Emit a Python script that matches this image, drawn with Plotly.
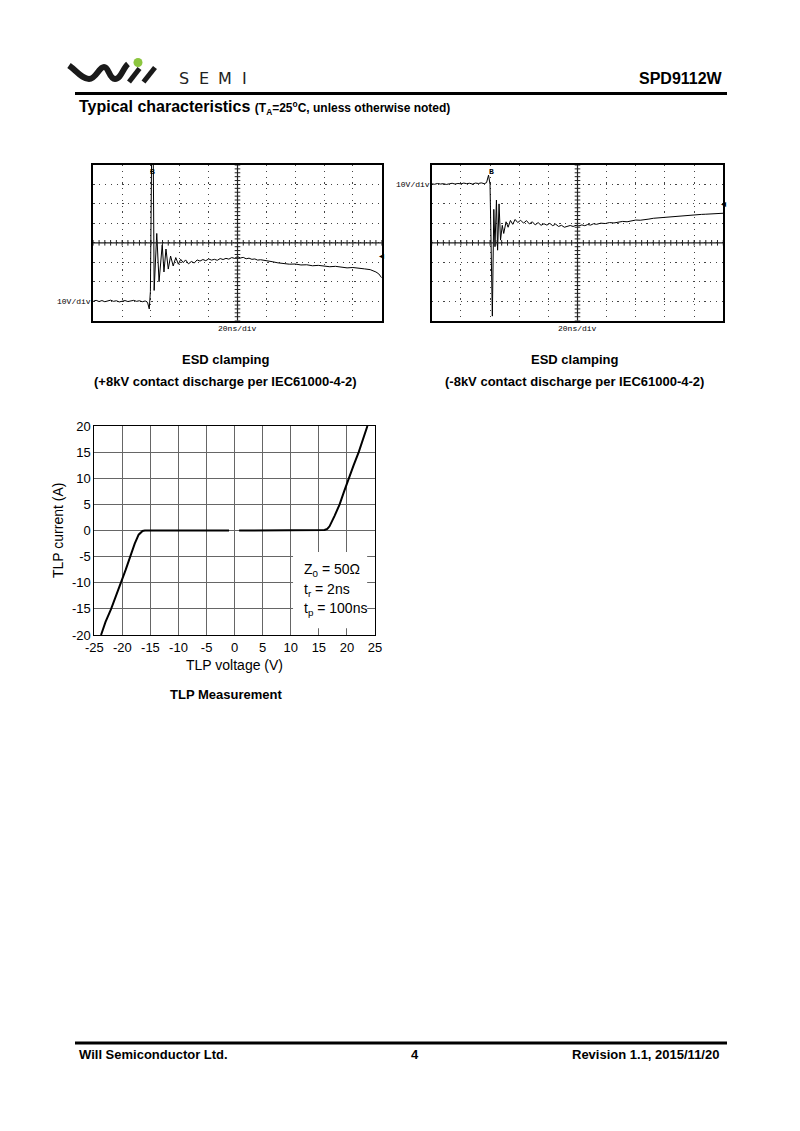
import plotly.graph_objects as go

W, H = 800, 1131

# ---------------- data ----------------
# ESD clamping +8kV (time in ns, voltage in V relative to ground)
esd_pos_t = [0, 2, 4, 6, 8, 10, 12, 14, 16, 18, 20, 22, 24, 26, 28, 30, 32, 34, 36, 37.6,
             38.8, 39.6, 40.4, 41.6, 42.2, 44.0, 45.6, 47.8, 49.0, 50.4, 52.0, 53.6, 55.4, 57.2,
             59.0, 60.6, 62.4, 64, 66, 68, 70, 72, 74, 76, 78, 80, 82, 84, 86, 88, 90, 92, 94,
             96, 98, 100, 102, 104, 106, 108, 110, 112, 114, 116, 120, 124, 128, 132, 136, 140,
             144, 148, 152, 156, 160, 164, 168, 172, 176, 180, 184, 188, 192, 194, 196, 198, 200]
esd_pos_v = [0.0, 0.4, -0.2, 0.3, -0.3, 0.2, 0.5, -0.1, 0.2, -0.4, 0.1, 0.3, -0.2, 0.2, 0.4, -0.1,
             0.2, -0.3, 0.1, -0.6,
             -4.0, 5.0, 72.0, 72.0, 5.5, 34.8, 10.0, 29.0, 15.0, 26.8, 16.5, 23.2, 18.1, 22.4,
             19.0, 21.5, 19.8, 21.2, 19.2, 20.4, 19.6, 21.2, 20.6, 21.4, 20.8, 21.7, 21.1, 21.5,
             21.0, 21.9, 21.4, 22.0, 21.6, 22.4, 22.0, 22.9, 22.2, 22.5, 21.8, 22.1, 21.5, 21.7,
             21.1, 21.3, 20.6, 20.3, 19.7, 19.4, 19.0, 19.1, 18.6, 18.7, 18.2, 18.4, 17.9, 17.7,
             17.9, 17.4, 17.1, 17.3, 16.8, 16.6, 16.2, 15.7, 15.0, 14.0, 12.0]

# ESD clamping -8kV
esd_neg_t = [0, 2, 4, 6, 8, 10, 12, 14, 16, 18, 20, 22, 24, 26, 28, 30, 32, 34, 36, 37.6,
             39.0, 40.0, 41.6, 42.6, 43.4, 44.4, 45.2, 46.2, 47.2, 48.4, 49.4, 51.0, 52.4, 54.0,
             55.6, 57.2, 59, 61, 63, 65, 67, 69, 71, 73, 75, 77, 79, 81, 83, 85, 87, 89, 91, 93,
             95, 97, 99, 101, 103, 105, 107, 109, 111, 113, 116, 119, 122, 125, 128, 131, 134,
             137, 140, 143, 146, 149, 152, 155, 158, 161, 164, 167, 170, 173, 176, 179, 182, 185,
             188, 191, 194, 197, 200]
esd_neg_v = [0.3, 0.1, 0.5, 0.2, 0.4, 0.0, 0.3, 0.6, 0.2, 0.5, 0.3, 0.7, 0.4, 0.6, 0.2, 0.7, 0.5,
             0.8, 0.4, 0.9,
             4.8, 0.0, -67.7, -12.8, -32.0, -8.0, -33.8, -10.0, -28.6, -21.0, -25.2, -19.2, -22.0,
             -18.5, -20.5, -18.0, -19.6, -18.4, -19.9, -18.6, -20.3, -19.2, -20.8, -19.6, -21.0,
             -20.2, -20.9, -20.0, -21.2, -20.4, -21.6, -21.0, -22.0, -21.4, -21.1, -21.6, -21.0,
             -21.3, -20.8, -21.2, -20.6, -20.9, -20.2, -20.5, -19.9, -20.1, -19.6, -19.8, -19.3,
             -19.0, -19.2, -18.6, -18.3, -18.4, -17.9, -17.8, -17.4, -17.2, -16.9, -16.8, -16.6,
             -16.3, -16.4, -16.0, -15.9, -15.7, -15.6, -15.4, -15.3, -15.1, -15.0, -14.9, -14.8]

# TLP measurement (V, A)
tlp_neg_v = [-23.8, -23.0, -22.0, -21.1, -20.2, -19.4, -18.6, -17.8, -17.1, -16.7, -16.4, -16.0, -15.5, -1.0]
tlp_neg_i = [-20.0, -17.5, -15.0, -12.5, -10.0, -7.5, -5.0, -2.5, -0.8, -0.3, -0.1, 0.0, 0.0, 0.0]
tlp_pos_v = [0.8, 15.5, 16.0, 16.5, 16.9, 17.8, 18.7, 19.5, 20.3, 21.2, 22.1, 22.9, 23.65]
tlp_pos_i = [0.0, 0.0, 0.1, 0.3, 0.8, 2.8, 5.0, 7.5, 10.0, 12.5, 15.0, 17.5, 20.0]

tlp_xticks = [-25, -20, -15, -10, -5, 0, 5, 10, 15, 20, 25]
tlp_yticks = [-20, -15, -10, -5, 0, 5, 10, 15, 20]
tlp_xlabels = ["-25", "-20", "-15", "-10", "-5", "0", "5", "10", "15", "20", "25"]
tlp_ylabels = ["-20", "-15", "-10", "-5", "0", "5", "10", "15", "20"]

# scope minor subdivision marks (1/5 div) along centre graticule
scope_minor_t = [i * 4 for i in range(51)]
scope_minor_v = [i * 2 for i in range(-20, 21)]

# ---------------- helpers ----------------
def fx(x):
    return x / W


def fy(y):
    return 1 - y / H


FONT = "Liberation Sans, Arial, sans-serif"
MONO = "Liberation Mono, DejaVu Sans Mono, monospace"

fig = go.Figure()

fig.add_trace(go.Scatter(x=esd_pos_t, y=esd_pos_v, mode="lines",
                         line=dict(color="black", width=1), xaxis="x", yaxis="y",
                         showlegend=False, hoverinfo="skip"))
fig.add_trace(go.Scatter(x=esd_neg_t, y=esd_neg_v, mode="lines",
                         line=dict(color="black", width=1), xaxis="x2", yaxis="y2",
                         showlegend=False, hoverinfo="skip"))

for xa, ya, yc in (("x", "y", 30), ("x2", "y2", -30)):
    fig.add_trace(go.Scatter(x=scope_minor_t, y=[yc] * len(scope_minor_t), mode="markers",
                             marker=dict(symbol="line-ns", size=4, line=dict(color="#222", width=1)),
                             xaxis=xa, yaxis=ya, showlegend=False, hoverinfo="skip"))
    fig.add_trace(go.Scatter(x=[100] * len(scope_minor_v), y=[yc + v for v in scope_minor_v],
                             mode="markers",
                             marker=dict(symbol="line-ew", size=4, line=dict(color="#222", width=1)),
                             xaxis=xa, yaxis=ya, showlegend=False, hoverinfo="skip"))

fig.add_trace(go.Scatter(x=tlp_neg_v, y=tlp_neg_i, mode="lines",
                         line=dict(color="black", width=2), xaxis="x3", yaxis="y3",
                         showlegend=False, hoverinfo="skip"))
fig.add_trace(go.Scatter(x=tlp_pos_v, y=tlp_pos_i, mode="lines",
                         line=dict(color="black", width=2), xaxis="x3", yaxis="y3",
                         showlegend=False, hoverinfo="skip"))

scope_x = dict(range=[0, 200], tick0=0, dtick=20, showgrid=True, gridcolor="#444",
               griddash="1.2px,4.6px", gridwidth=1, showline=True, mirror=True, linecolor="black",
               linewidth=1.5, showticklabels=False, ticks="", zeroline=False, automargin=False)
scope_y = dict(tick0=0, dtick=10, showgrid=True, gridcolor="#444",
               griddash="1.2px,4.6px", gridwidth=1, showline=True, mirror=True, linecolor="black",
               linewidth=1.5, showticklabels=False, ticks="", zeroline=False, automargin=False)

s1x = [fx(93.3), fx(381.7)]
s2x = [fx(431.7), fx(723.3)]
sy = [fy(320.6), fy(165)]

fig.update_layout(
    width=W, height=H, margin=dict(l=0, r=0, t=0, b=0),
    paper_bgcolor="white", plot_bgcolor="white",
    xaxis=dict(scope_x, domain=s1x, anchor="y"),
    yaxis=dict(scope_y, domain=sy, range=[-10, 70], anchor="x"),
    xaxis2=dict(scope_x, domain=s2x, anchor="y2"),
    yaxis2=dict(scope_y, domain=sy, range=[-70, 10], anchor="x2"),
    xaxis3=dict(domain=[fx(94.3), fx(375)], range=[-25, 25], anchor="y3",
                tickvals=tlp_xticks, ticktext=tlp_xlabels, showgrid=True, gridcolor="#666",
                gridwidth=1, showline=True, mirror=True, linecolor="black", linewidth=1,
                zeroline=False, ticks="", tickfont=dict(family=FONT, size=13, color="black"),
                automargin=False),
    yaxis3=dict(domain=[fy(635), fy(426)], range=[-20, 20], anchor="x3",
                tickvals=tlp_yticks, ticktext=tlp_ylabels, showgrid=True, gridcolor="#666",
                gridwidth=1, showline=True, mirror=True, linecolor="black", linewidth=1,
                zeroline=False, ticks="", tickfont=dict(family=FONT, size=13, color="black"),
                automargin=False),
)

shapes = []
shapes.append(dict(type="line", xref="paper", yref="paper", x0=fx(75), x1=fx(727),
                   y0=fy(93.5), y1=fy(93.5), line=dict(color="black", width=3)))
shapes.append(dict(type="line", xref="paper", yref="paper", x0=fx(75), x1=fx(727),
                   y0=fy(1043), y1=fy(1043), line=dict(color="black", width=3)))
for xa, ya, yc in (("x", "y", 30), ("x2", "y2", -30)):
    shapes.append(dict(type="line", xref=xa + " domain", yref=ya, x0=0, x1=1, y0=yc, y1=yc,
                       line=dict(color="#222", width=1.2)))
    shapes.append(dict(type="line", xref=xa, yref=ya + " domain", x0=100, x1=100, y0=0, y1=1,
                       line=dict(color="#222", width=1.2)))
shapes.append(dict(type="rect", xref="x3", yref="y3", x0=10.4, x1=23.6, y0=-18.7, y1=-4.1,
                   fillcolor="white", line=dict(width=0), layer="between"))


def path(points):
    s = "M %f %f" % (fx(points[0][0]), fy(points[0][1]))
    rest = points[1:]
    for i in range(0, len(rest), 3):
        (a, b), (c, d), (e, f) = rest[i:i + 3]
        s += " C %f %f, %f %f, %f %f" % (fx(a), fy(b), fx(c), fy(d), fx(e), fy(f))
    return s


wave = [(69, 65.5), (77, 71), (82, 79), (89, 79), (96, 79), (99, 67), (104, 67),
        (109, 67), (109, 79), (115, 79), (121, 79), (123, 68), (128, 64)]
shapes.append(dict(type="path", xref="paper", yref="paper", path=path(wave),
                   line=dict(color="#1a1a1a", width=6)))
shapes.append(dict(type="line", xref="paper", yref="paper", x0=fx(129), y0=fy(82),
                   x1=fx(139.5), y1=fy(68.5), line=dict(color="#1a1a1a", width=5)))
shapes.append(dict(type="line", xref="paper", yref="paper", x0=fx(143.5), y0=fy(82),
                   x1=fx(155), y1=fy(67.5), line=dict(color="#1a1a1a", width=5)))
shapes.append(dict(type="circle", xref="paper", yref="paper", x0=fx(133.5), x1=fx(142.5),
                   y0=fy(67), y1=fy(58), fillcolor="#8cc63f", line=dict(width=0)))
fig.update_layout(shapes=shapes)

ann = []


def text(x, y, t, size=13, bold=True, xanchor="center", family=FONT, color="black", **kw):
    ann.append(dict(x=fx(x), y=fy(y), xref="paper", yref="paper", text=("<b>%s</b>" % t) if bold else t,
                    showarrow=False, xanchor=xanchor, yanchor="middle",
                    font=dict(family=family, size=size, color=color), **kw))


for cx, letter in ((183.5, "S"), (204, "E"), (225, "M"), (244.5, "I")):
    text(cx, 78.5, letter, size=16, bold=False, color="#222", family="DejaVu Sans")
text(725, 78, "SPD9112W", size=16, xanchor="right")
text(77, 107, "Typical characteristics <span style='font-size:12px'>(T<sub>A</sub>=25<sup>o</sup>C, unless otherwise noted)</span>",
     size=16, xanchor="left")
text(226, 359, "ESD clamping")
text(226, 381, "(+8kV contact discharge per IEC61000-4-2)")
text(574, 359, "ESD clamping")
text(574, 381, "(-8kV contact discharge per IEC61000-4-2)")
text(226, 694, "TLP Measurement")
text(77, 1054, "Will Semiconductor Ltd.", xanchor="left")
text(415, 1054, "4")
text(721, 1054, "Revision 1.1, 2015/11/20", xanchor="right")

text(234, 665, "TLP voltage (V)", bold=False, size=14)
ann.append(dict(x=fx(58), y=fy(530), xref="paper", yref="paper", text="TLP current (A)",
                textangle=-90, showarrow=False, xanchor="center", yanchor="middle",
                font=dict(family=FONT, size=14, color="black")))

for yv, t in ((-7.6, "Z<sub>0</sub> = 50Ω"), (-11.4, "t<sub>r</sub> = 2ns"), (-15.0, "t<sub>p</sub> = 100ns")):
    ann.append(dict(x=12.0, y=yv, xref="x3", yref="y3", text=t, showarrow=False,
                    xanchor="left", yanchor="middle", font=dict(family=FONT, size=14, color="black")))

for xa, ya in (("x", "y"), ("x2", "y2")):
    ann.append(dict(x=0, y=0, xref=xa + " domain", yref=ya, text="10V/div", showarrow=False,
                    xanchor="right", yanchor="middle", font=dict(family=MONO, size=8, color="black")))
    ann.append(dict(x=0.5, y=0, xref=xa + " domain", yref=ya + " domain", text="20ns/div",
                    showarrow=False, xanchor="center", yanchor="top", yshift=-1,
                    font=dict(family=MONO, size=8, color="black")))
    ann.append(dict(x=41, y=1, xref=xa, yref=ya + " domain", text="<b>B</b>", showarrow=False,
                    xanchor="center", yanchor="top", font=dict(family=MONO, size=8, color="black")))
ann.append(dict(x=1, y=23.5, xref="x domain", yref="y", text="◂", showarrow=False,
                xanchor="center", yanchor="middle", font=dict(family="DejaVu Sans", size=10, color="black")))
ann.append(dict(x=1, y=-10, xref="x2 domain", yref="y2", text="◂", showarrow=False,
                xanchor="center", yanchor="middle", font=dict(family="DejaVu Sans", size=10, color="black")))

fig.update_layout(annotations=ann)
fig.write_html("out.html", config={"displayModeBar": False},
               post_script="document.body.style.margin='0px';document.body.style.padding='0px';")
